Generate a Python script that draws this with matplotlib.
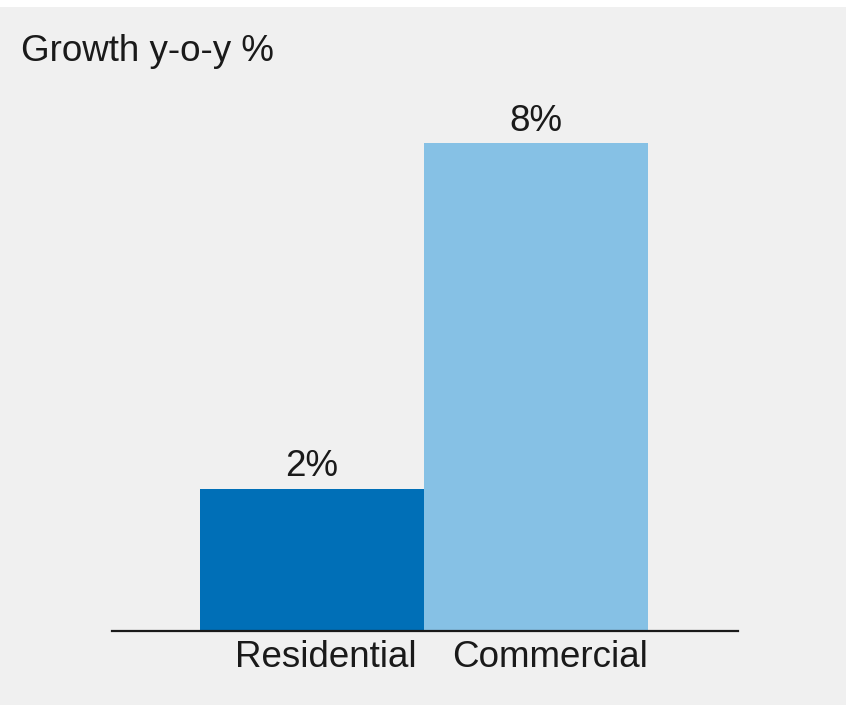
import matplotlib.pyplot as plt
from matplotlib.patches import Rectangle
from matplotlib.transforms import ScaledTranslation

# data
categories = ['Residential', 'Commercial']
growth = [2.3, 7.9]
bar_colors = ['#006fb7', '#86c1e5']
title = 'Growth y-o-y %'

plt.rcParams['font.family'] = ['Liberation Sans', 'DejaVu Sans']

W, H = 848, 705
fig = plt.figure(figsize=(W / 100, H / 100), dpi=100)
fig.patch.set_facecolor('white')
# grey panel (thin white strip at top and right)
fig.patches.append(Rectangle((0, 0), 846 / W, (H - 7) / H, transform=fig.transFigure,
                             facecolor='#f0f0f0', edgecolor='none', zorder=-1))

# axes placed so the baseline sits at ~630px
ax = fig.add_axes([112 / W, (H - 630.5) / H, (738 - 112) / W, 524 / H])
ax.set_facecolor('none')

x = range(len(categories))
bars = ax.bar(x, growth, width=1.0, color=bar_colors, zorder=2)

for b, v in zip(bars, growth):
    ax.annotate(f'{v:.0f}%', (b.get_x() + b.get_width() / 2, b.get_height()),
                xytext=(0, 9), textcoords='offset points', ha='center', va='baseline',
                fontsize=26.5, color='#1a1a1a')

ax.set_xlim(-0.893, 1.902)
ax.set_ylim(0, 8.5)
ax.set_xticks(list(x))
ax.set_xticklabels(categories, fontsize=26.5, color='#1a1a1a')
ax.tick_params(axis='x', length=0, pad=7)
# labels in the reference sit a little right of the bar centres
shift = ScaledTranslation(0.14, 0, fig.dpi_scale_trans)
for lbl in ax.get_xticklabels():
    lbl.set_transform(lbl.get_transform() + shift)
ax.set_yticks([])
for s in ['top', 'right', 'left']:
    ax.spines[s].set_visible(False)
ax.spines['bottom'].set_linewidth(1.6)
ax.spines['bottom'].set_color('#1a1a1a')
ax.spines['bottom'].set_zorder(3)

fig.text(21 / W, 1 - 61 / H, title, fontsize=26.5, color='#1a1a1a', ha='left', va='baseline')

fig.savefig('out.png', dpi=100, facecolor=fig.get_facecolor())
